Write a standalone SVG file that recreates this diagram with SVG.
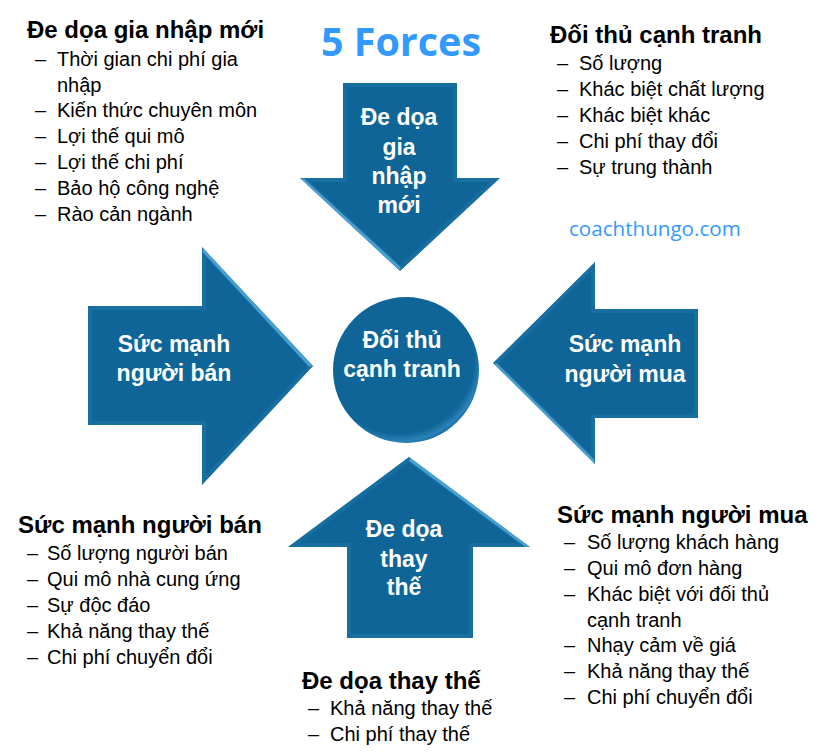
<svg xmlns="http://www.w3.org/2000/svg" width="826" height="756" viewBox="0 0 826 756">
<style>
.shape{fill:#0F6597}
.rim{fill:none;stroke:#2A80B4;stroke-width:8;opacity:0.35}
.hl{fill:none;stroke:#5AB0E0;stroke-width:5;stroke-linecap:round;opacity:0.75}
.lbl{font-family:"Liberation Sans",Arial,sans-serif;font-weight:bold;font-size:23px;fill:#FFFFFF;text-anchor:middle}
.hd{font-family:"Liberation Sans",Arial,sans-serif;font-weight:bold;font-size:24px;fill:#000000}
.it{font-family:"Liberation Sans",Arial,sans-serif;font-size:20px;fill:#000000}
.title{font-family:"Open Sans","Noto Sans",sans-serif;font-weight:bold;font-size:39.5px;fill:#3399FF}
.web{font-family:"Open Sans","Noto Sans",sans-serif;font-size:20.6px;fill:#3399FF}
</style>
<defs>
<clipPath id="cTop"><polygon points="343,83 457,83 457,178 500,178 400,271 300,178 343,178"/></clipPath>
<clipPath id="cLeft"><polygon points="88,306 202,306 202,247 313,366 202,485 202,425 88,425"/></clipPath>
<clipPath id="cRight"><polygon points="698,309 595,309 595,262 493,363 595,464 595,418 698,418"/></clipPath>
<clipPath id="cBottom"><polygon points="409,457 530,547 473,547 473,638 347,638 347,547 288,547"/></clipPath>
<radialGradient id="gCirc" cx="0.45" cy="0.42" r="0.6">
<stop offset="0.86" stop-color="#0F6597"/>
<stop offset="0.95" stop-color="#2A82B8"/>
<stop offset="1" stop-color="#0F6597"/>
</radialGradient>
</defs>

<text class="title" x="401" y="56" text-anchor="middle">5 Forces</text>
<text class="web" x="569" y="236">coachthungo.com</text>

<g id="threat-new-entrants">
<polygon class="shape" points="343,83 457,83 457,178 500,178 400,271 300,178 343,178"/>
<g clip-path="url(#cTop)">
<polygon class="rim" points="343,83 457,83 457,178 500,178 400,271 300,178 343,178"/>
<line class="hl" x1="303" y1="181" x2="398" y2="268"/>
</g>
<text class="lbl" x="399" y="125">Đe dọa</text>
<text class="lbl" x="399" y="155">gia</text>
<text class="lbl" x="399" y="184">nhập</text>
<text class="lbl" x="399" y="213">mới</text>
</g>

<g id="supplier-power">
<polygon class="shape" points="88,306 202,306 202,247 313,366 202,485 202,425 88,425"/>
<g clip-path="url(#cLeft)">
<polygon class="rim" points="88,306 202,306 202,247 313,366 202,485 202,425 88,425"/>
<line class="hl" x1="205" y1="251" x2="310" y2="364"/>
</g>
<text class="lbl" x="174" y="352">Sức mạnh</text>
<text class="lbl" x="174" y="381">người bán</text>
</g>

<g id="buyer-power">
<polygon class="shape" points="698,309 595,309 595,262 493,363 595,464 595,418 698,418"/>
<g clip-path="url(#cRight)">
<polygon class="rim" points="698,309 595,309 595,262 493,363 595,464 595,418 698,418"/>
<line class="hl" x1="496" y1="366" x2="592" y2="461"/>
</g>
<text class="lbl" x="625" y="352">Sức mạnh</text>
<text class="lbl" x="625" y="382">người mua</text>
</g>

<g id="rivalry">
<circle cx="406" cy="370" r="73" fill="url(#gCirc)"/>
<text class="lbl" x="402" y="348">Đối thủ</text>
<text class="lbl" x="402" y="377">cạnh tranh</text>
</g>

<g id="threat-substitutes">
<polygon class="shape" points="409,457 530,547 473,547 473,638 347,638 347,547 288,547"/>
<g clip-path="url(#cBottom)">
<polygon class="rim" points="409,457 530,547 473,547 473,638 347,638 347,547 288,547"/>
<line class="hl" x1="412" y1="460" x2="527" y2="545"/>
</g>
<text class="lbl" x="404" y="537">Đe dọa</text>
<text class="lbl" x="404" y="567">thay</text>
<text class="lbl" x="404" y="595">thế</text>
</g>

<g id="list-new-entrants">
<text class="hd" x="27" y="38">Đe dọa gia nhập mới</text>
<text class="it" x="35" y="66">–</text><text class="it" x="57" y="66">Thời gian chi phí gia</text>
<text class="it" x="57" y="92">nhập</text>
<text class="it" x="35" y="117">–</text><text class="it" x="57" y="117">Kiến thức chuyên môn</text>
<text class="it" x="35" y="143">–</text><text class="it" x="57" y="143">Lợi thế qui mô</text>
<text class="it" x="35" y="169">–</text><text class="it" x="57" y="169">Lợi thế chi phí</text>
<text class="it" x="35" y="195">–</text><text class="it" x="57" y="195">Bảo hộ công nghệ</text>
<text class="it" x="35" y="221">–</text><text class="it" x="57" y="221">Rào cản ngành</text>
</g>

<g id="list-rivalry">
<text class="hd" x="550" y="43">Đối thủ cạnh tranh</text>
<text class="it" x="557" y="70">–</text><text class="it" x="579" y="70">Số lượng</text>
<text class="it" x="557" y="96">–</text><text class="it" x="579" y="96">Khác biệt chất lượng</text>
<text class="it" x="557" y="122">–</text><text class="it" x="579" y="122">Khác biệt khác</text>
<text class="it" x="557" y="148">–</text><text class="it" x="579" y="148">Chi phí thay đổi</text>
<text class="it" x="557" y="174">–</text><text class="it" x="579" y="174">Sự trung thành</text>
</g>

<g id="list-supplier">
<text class="hd" x="18" y="533">Sức mạnh người bán</text>
<text class="it" x="27" y="560">–</text><text class="it" x="47" y="560">Số lượng người bán</text>
<text class="it" x="27" y="586">–</text><text class="it" x="47" y="586">Qui mô nhà cung ứng</text>
<text class="it" x="27" y="612">–</text><text class="it" x="47" y="612">Sự độc đáo</text>
<text class="it" x="27" y="638">–</text><text class="it" x="47" y="638">Khả năng thay thế</text>
<text class="it" x="27" y="664">–</text><text class="it" x="47" y="664">Chi phí chuyển đổi</text>
</g>

<g id="list-buyer">
<text class="hd" x="557" y="523">Sức mạnh người mua</text>
<text class="it" x="564" y="549">–</text><text class="it" x="587" y="549">Số lượng khách hàng</text>
<text class="it" x="564" y="575">–</text><text class="it" x="587" y="575">Qui mô đơn hàng</text>
<text class="it" x="564" y="601">–</text><text class="it" x="587" y="601">Khác biệt với đối thủ</text>
<text class="it" x="587" y="627">cạnh tranh</text>
<text class="it" x="564" y="652">–</text><text class="it" x="587" y="652">Nhạy cảm về giá</text>
<text class="it" x="564" y="678">–</text><text class="it" x="587" y="678">Khả năng thay thế</text>
<text class="it" x="564" y="704">–</text><text class="it" x="587" y="704">Chi phí chuyển đổi</text>
</g>

<g id="list-substitutes">
<text class="hd" x="302" y="689">Đe dọa thay thế</text>
<text class="it" x="308" y="715">–</text><text class="it" x="330" y="715">Khả năng thay thế</text>
<text class="it" x="308" y="741">–</text><text class="it" x="330" y="741">Chi phí thay thế</text>
</g>

<g id="connectors"></g>
</svg>
